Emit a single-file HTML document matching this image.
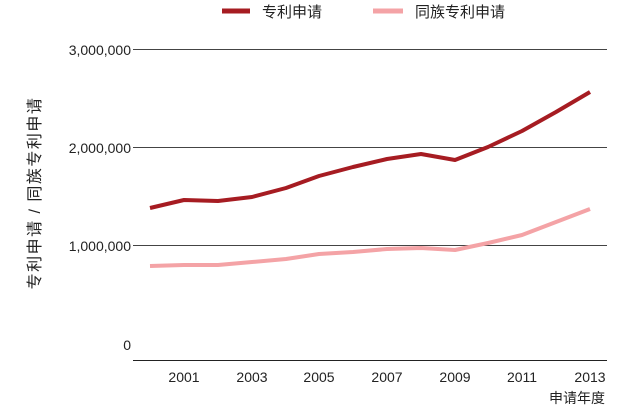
<!DOCTYPE html>
<html><head><meta charset="utf-8"><style>
html,body{margin:0;padding:0;background:#fff;}
svg{display:block;font-family:"Liberation Sans","Noto Sans CJK SC",sans-serif;}
</style></head><body>
<svg width="640" height="408" viewBox="0 0 640 408">
<rect width="640" height="408" fill="#fff"/>
<g stroke="#444" stroke-width="1">
<line x1="133" y1="49.5" x2="607" y2="49.5"/>
<line x1="133" y1="147.5" x2="607" y2="147.5"/>
<line x1="133" y1="245.5" x2="607" y2="245.5"/>
<line x1="133" y1="360.5" x2="607" y2="360.5" stroke="#222"/>
</g>
<g font-size="14" fill="#222" text-anchor="end">
<text x="131" y="55">3,000,000</text>
<text x="131" y="153">2,000,000</text>
<text x="131" y="251">1,000,000</text>
<text x="131" y="350">0</text>
</g>
<g font-size="14" fill="#222" text-anchor="middle">
<text x="184" y="382">2001</text>
<text x="252" y="382">2003</text>
<text x="319" y="382">2005</text>
<text x="387" y="382">2007</text>
<text x="455" y="382">2009</text>
<text x="522" y="382">2011</text>
<text x="590" y="382">2013</text>
</g>
<text x="605" y="403" font-size="14" fill="#222" text-anchor="end">申请年度</text>
<text transform="translate(40,193) rotate(-90)" font-size="16" letter-spacing="1.5" fill="#222" text-anchor="middle">专利申请 / 同族专利申请</text>
<polyline fill="none" stroke="#f4a3a6" stroke-width="4" stroke-linejoin="round" points="150,266 184,265 218,265 252,262 286,259 319,254 353,252 387,249 421,248 455,250 488,243 522,235 556,222 590,209"/>
<polyline fill="none" stroke="#a61c22" stroke-width="4" stroke-linejoin="round" points="150,208 184,200 218,201 252,197 286,188 319,176 353,167 387,159 421,154 455,160 488,147 522,131 556,112 590,92"/>
<line x1="222" y1="11" x2="250" y2="11" stroke="#a61c22" stroke-width="5"/>
<text x="262" y="17" font-size="15" fill="#222">专利申请</text>
<line x1="373" y1="11" x2="403" y2="11" stroke="#f4a3a6" stroke-width="5"/>
<text x="415" y="17" font-size="15" fill="#222">同族专利申请</text>
</svg>
</body></html>
